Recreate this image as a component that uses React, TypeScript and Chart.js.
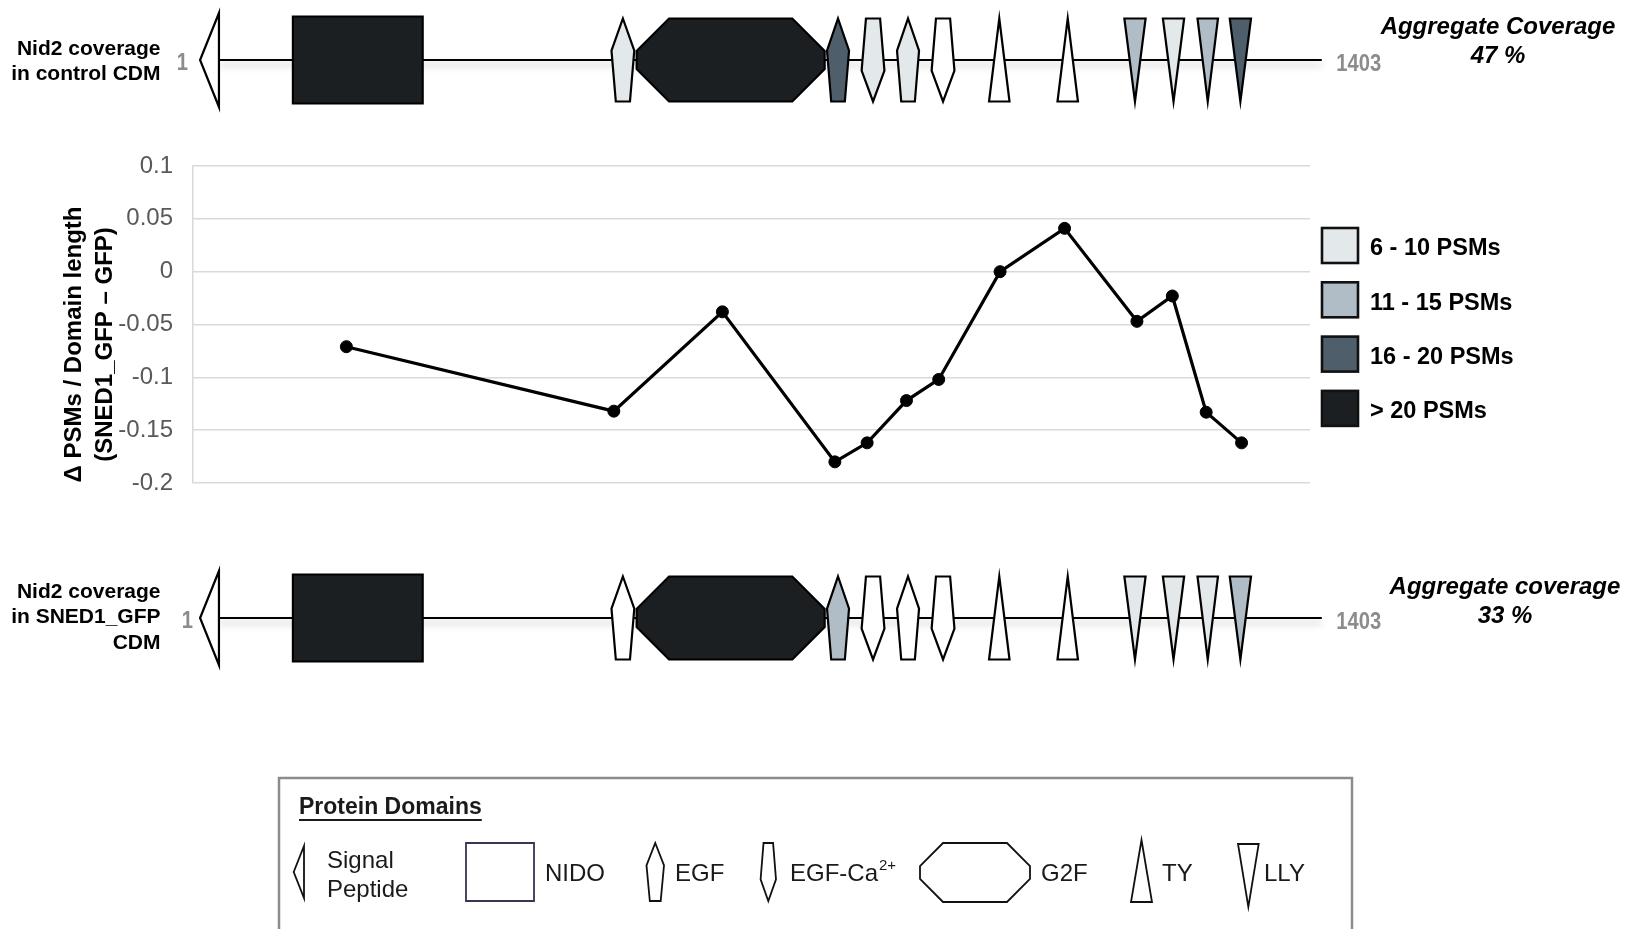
import React, { useEffect, useRef } from 'react';
import { Chart, registerables } from 'chart.js';

Chart.register(...registerables);

// ---------------- data ----------------
const pointPositions = [163, 503, 641, 784, 825, 875, 916, 994, 1076, 1168, 1213, 1256, 1301];
const deltaPsm = [-0.071, -0.132, -0.038, -0.18, -0.162, -0.122, -0.102, 0.0, 0.041, -0.047, -0.023, -0.133, -0.162];
const yTickValues = [-0.2, -0.15, -0.1, -0.05, 0, 0.05, 0.1];
const yTitleLines = ['\u0394 PSMs / Domain length', '(SNED1_GFP \u2013 GFP)'];

const domainTypes = ['SP', 'NIDO', 'EGF', 'G2F', 'EGF', 'EGF-Ca', 'EGF', 'EGF-Ca', 'TY', 'TY', 'LLY', 'LLY', 'LLY', 'LLY'];
const domainStarts = [-23, 95, 500, 532, 774, 818, 863, 907, 980, 1067, 1152, 1201, 1245, 1286];
const domainEnds = [1, 260, 529, 771, 802, 847, 891, 936, 1006, 1093, 1179, 1228, 1271, 1313];
const controlCoverage = [0, 4, 1, 4, 3, 1, 1, 0, 0, 0, 2, 1, 2, 3];
const sned1Coverage = [0, 4, 0, 4, 2, 0, 0, 0, 0, 0, 1, 1, 1, 2];

const psmLegendLabels = ['6 - 10 PSMs', '11 - 15 PSMs', '16 - 20 PSMs', '> 20 PSMs'];
const trackLabelsControl = ['Nid2 coverage', 'in control CDM'];
const trackLabelsSned1 = ['Nid2 coverage', 'in SNED1_GFP', 'CDM'];
const aggregateControl = ['Aggregate Coverage', '47 %'];
const aggregateSned1 = ['Aggregate coverage', '33 %'];
const proteinStart = 1;
const proteinEnd = 1403;
const legendTitle = 'Protein Domains';
const legendTypes = ['SP', 'NIDO', 'EGF', 'EGF-Ca', 'G2F', 'TY', 'LLY'];
const legendNames = [['Signal', 'Peptide'], ['NIDO'], ['EGF'], ['EGF-Ca'], ['G2F'], ['TY'], ['LLY']];

// ---------------- styles ----------------
const FONT = '"Liberation Sans", Arial, Helvetica, sans-serif';
const levelColors = ['#ffffff', '#e3e8eb', '#b0bcc6', '#4e5e6a', '#1c1f22'];

function shapePath(ctx: CanvasRenderingContext2D, type: string, x0: number, x1: number, top: number, bottom: number) {
  const cx = (x0 + x1) / 2;
  const hw = (x1 - x0) / 2;
  const h = bottom - top;
  ctx.beginPath();
  if (type === 'SP') {
    ctx.moveTo(x0, (top + bottom) / 2);
    ctx.lineTo(x1, top);
    ctx.lineTo(x1, bottom);
  } else if (type === 'NIDO') {
    ctx.rect(x0, top, x1 - x0, h);
  } else if (type === 'EGF') {
    ctx.moveTo(cx, top);
    ctx.lineTo(x1, top + 0.386 * h);
    ctx.lineTo(cx + 0.62 * hw, bottom);
    ctx.lineTo(cx - 0.62 * hw, bottom);
    ctx.lineTo(x0, top + 0.386 * h);
  } else if (type === 'EGF-Ca') {
    ctx.moveTo(cx - 0.62 * hw, top);
    ctx.lineTo(cx + 0.62 * hw, top);
    ctx.lineTo(x1, top + 0.627 * h);
    ctx.lineTo(cx, bottom);
    ctx.lineTo(x0, top + 0.627 * h);
  } else if (type === 'G2F') {
    const c = 0.39 * h;
    const cv = 0.39 * h;
    ctx.moveTo(x0 + c, top);
    ctx.lineTo(x1 - c, top);
    ctx.lineTo(x1, top + cv);
    ctx.lineTo(x1, bottom - cv);
    ctx.lineTo(x1 - c, bottom);
    ctx.lineTo(x0 + c, bottom);
    ctx.lineTo(x0, bottom - cv);
    ctx.lineTo(x0, top + cv);
  } else if (type === 'TY') {
    ctx.moveTo(cx, top);
    ctx.lineTo(x1, bottom);
    ctx.lineTo(x0, bottom);
  } else if (type === 'LLY') {
    ctx.moveTo(x0, top);
    ctx.lineTo(x1, top);
    ctx.lineTo(cx, bottom);
  }
  ctx.closePath();
}

function condensedText(ctx: CanvasRenderingContext2D, text: string, x: number, y: number, align: 'left' | 'right') {
  ctx.save();
  ctx.translate(x, y);
  ctx.scale(0.84, 1);
  ctx.textAlign = align;
  ctx.fillText(text, 0, 0);
  ctx.restore();
}

function drawTrack(
  ctx: CanvasRenderingContext2D,
  px: (v: number) => number,
  cy: number,
  levels: number[],
  labels: string[],
  labelYs: number[],
  oneRight: number,
  agg: string[],
  aggX: number,
  aggYs: number[]
) {
  const xa = px(proteinStart);
  const xb = px(proteinEnd);
  ctx.save();
  ctx.strokeStyle = '#000';
  ctx.lineWidth = 2.2;
  ctx.shadowColor = 'rgba(0,0,0,0.28)';
  ctx.shadowBlur = 7;
  ctx.shadowOffsetY = 5;
  ctx.beginPath();
  ctx.moveTo(xa, cy);
  ctx.lineTo(xb, cy);
  ctx.stroke();
  ctx.restore();

  domainTypes.forEach((t, i) => {
    const half = t === 'SP' ? 47 : t === 'NIDO' ? 43.5 : 41.5;
    shapePath(ctx, t, px(domainStarts[i]), px(domainEnds[i]), cy - half, cy + half);
    ctx.fillStyle = levelColors[levels[i]];
    ctx.fill();
    ctx.lineWidth = 2.2;
    ctx.lineJoin = 'miter';
    ctx.strokeStyle = '#000';
    ctx.stroke();
  });

  ctx.fillStyle = '#000';
  ctx.font = `bold 21px ${FONT}`;
  ctx.textAlign = 'right';
  ctx.textBaseline = 'middle';
  labels.forEach((l, i) => ctx.fillText(l, 160.5, labelYs[i]));

  ctx.fillStyle = '#8c8c8c';
  ctx.font = `bold 24px ${FONT}`;
  condensedText(ctx, String(proteinStart), oneRight, cy + 3, 'right');
  condensedText(ctx, String(proteinEnd), xb + 14.5, cy + 4, 'left');

  ctx.fillStyle = '#000';
  ctx.font = `italic bold 24px ${FONT}`;
  ctx.textAlign = 'center';
  agg.forEach((l, i) => ctx.fillText(l, aggX, aggYs[i]));
}

const overlayPlugin = {
  id: 'overlay',
  afterDraw(chart: any) {
    const ctx: CanvasRenderingContext2D = chart.ctx;
    const xs = chart.scales.x;
    const px = (v: number) => xs.getPixelForValue(v);
    ctx.save();

    drawTrack(ctx, px, 60, controlCoverage, trackLabelsControl, [49.5, 74], 188, aggregateControl, 1498, [27, 56]);
    drawTrack(ctx, px, 618, sned1Coverage, trackLabelsSned1, [592, 617, 643], 193, aggregateSned1, 1505, [587, 616]);

    // y-axis title
    const area = chart.chartArea;
    ctx.save();
    ctx.fillStyle = '#000';
    ctx.font = `bold 24px ${FONT}`;
    ctx.textAlign = 'center';
    ctx.textBaseline = 'middle';
    ctx.translate(area.left - 119, (area.top + area.bottom) / 2 + 20);
    ctx.rotate(-Math.PI / 2);
    yTitleLines.forEach((l, i) => ctx.fillText(l, 0, i * 31));
    ctx.restore();

    // PSM legend
    ctx.textAlign = 'left';
    ctx.textBaseline = 'middle';
    psmLegendLabels.forEach((l, i) => {
      const top = 228 + i * 54.3;
      ctx.fillStyle = levelColors[i + 1];
      ctx.fillRect(1322, top, 36, 35);
      ctx.lineWidth = 2.6;
      ctx.strokeStyle = '#111';
      ctx.strokeRect(1322, top, 36, 35);
      ctx.fillStyle = '#000';
      ctx.font = `bold 23.5px ${FONT}`;
      ctx.fillText(l, 1370, top + 21);
    });

    // Protein domain legend box
    ctx.lineWidth = 2.5;
    ctx.strokeStyle = '#8c8c8c';
    ctx.strokeRect(279, 778, 1352 - 279, 200);
    ctx.fillStyle = '#1a1a1a';
    ctx.font = `bold 23px ${FONT}`;
    ctx.fillText(legendTitle, 299, 808);
    const tw = ctx.measureText(legendTitle).width;
    ctx.lineWidth = 1.8;
    ctx.strokeStyle = '#1a1a1a';
    ctx.beginPath();
    ctx.moveTo(299, 820);
    ctx.lineTo(299 + tw, 820);
    ctx.stroke();

    const iconBoxes: Record<string, number[]> = {
      SP: [293.7, 304, 846, 898],
      NIDO: [466, 534, 843, 901],
      EGF: [646.5, 664, 843, 901],
      'EGF-Ca': [760.6, 776, 843, 901],
      G2F: [920, 1030, 843, 902],
      TY: [1131, 1152, 840, 902],
      LLY: [1238, 1258.7, 844, 907],
    };
    const textX = [327, 545, 675, 790, 1041, 1162, 1264];
    legendTypes.forEach((t, i) => {
      const b = iconBoxes[t];
      shapePath(ctx, t, b[0], b[1], b[2], b[3]);
      ctx.fillStyle = '#fff';
      ctx.fill();
      ctx.lineWidth = 1.8;
      ctx.strokeStyle = t === 'NIDO' ? '#3b3352' : '#111';
      ctx.stroke();
      ctx.fillStyle = '#1a1a1a';
      ctx.font = `24px ${FONT}`;
      const names = legendNames[i];
      if (names.length === 2) {
        ctx.fillText(names[0], textX[i], 861);
        ctx.fillText(names[1], textX[i], 890);
      } else {
        ctx.fillText(names[0], textX[i], 874);
        if (t === 'EGF-Ca') {
          const w = ctx.measureText(names[0]).width;
          ctx.font = `15px ${FONT}`;
          ctx.fillText('2+', textX[i] + w + 1, 866);
        }
      }
    });

    ctx.restore();
  },
};

export default function App() {
  const canvasRef = useRef<HTMLCanvasElement | null>(null);

  useEffect(() => {
    const canvas = canvasRef.current;
    if (!canvas) return;
    const chart = new Chart(canvas, {
      type: 'scatter',
      data: {
        datasets: [
          {
            data: pointPositions.map((x, i) => ({ x, y: deltaPsm[i] })),
            showLine: true,
            borderColor: '#000',
            backgroundColor: '#000',
            borderWidth: 3.2,
            pointRadius: 6,
            pointBorderWidth: 1,
            pointBackgroundColor: '#000',
            pointBorderColor: '#000',
            tension: 0,
          },
        ],
      },
      options: {
        responsive: false,
        animation: false,
        events: [],
        layout: { padding: { left: 0, top: 166, right: 317, bottom: 446 } },
        plugins: { legend: { display: false }, tooltip: { enabled: false } },
        scales: {
          x: { type: 'linear', min: -32, max: 1388, display: false },
          y: {
            min: -0.2,
            max: 0.1,
            afterFit: (s: any) => {
              s.width = 193;
            },
            afterBuildTicks: (s: any) => {
              s.ticks = yTickValues.map((v) => ({ value: v }));
            },
            ticks: {
              padding: 20,
              color: '#595959',
              font: { family: FONT, size: 24 },
              callback: (v: any) => String(+Number(v).toFixed(2)),
            },
            grid: { color: '#d9d9d9', lineWidth: 1.5, drawTicks: false },
            border: { color: '#d9d9d9', width: 1.5 },
          },
        },
      },
      plugins: [overlayPlugin],
    } as any);
    return () => chart.destroy();
  }, []);

  return (
    <div style={{ position: 'fixed', left: 0, top: 0, width: 1627, height: 929, background: '#fff' }}>
      <canvas ref={canvasRef} width={1627} height={929} style={{ width: 1627, height: 929, display: 'block' }} />
    </div>
  );
}
